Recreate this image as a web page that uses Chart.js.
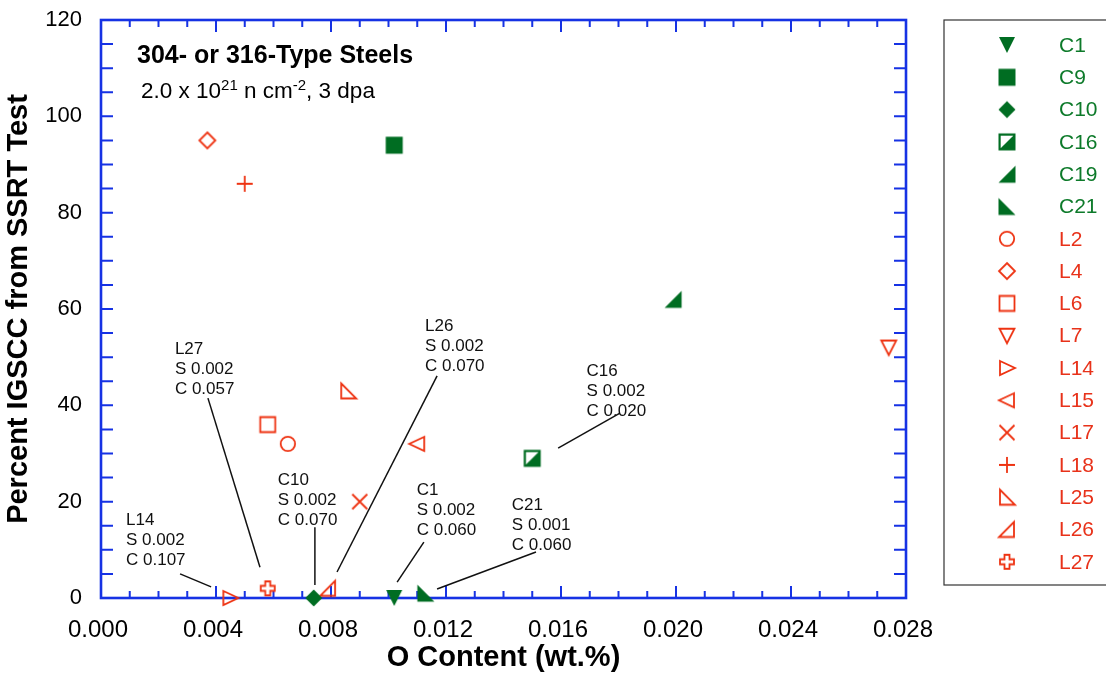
<!DOCTYPE html>
<html>
<head>
<meta charset="utf-8">
<script src="https://cdn.jsdelivr.net/npm/chart.js@4"></script>
<style>
  html, body { margin: 0; padding: 0; background: #fff; }
  canvas { display: block; }
</style>
</head>
<body>
<canvas id="c" width="1106" height="678"></canvas>
<script>
// ---------------- DATA ----------------
const seriesNames = ['C1','C9','C10','C16','C19','C21','L2','L4','L6','L7','L14','L15','L17','L18','L25','L26','L27'];
const oContent    = [0.0102,0.0102,0.0074,0.0150,0.0199,0.0113,0.0065,0.0037,0.0058,0.0274,0.0045,0.0110,0.0090,0.0050,0.0086,0.0079,0.0058];
const pctIGSCC    = [0,     94,    0,     29,    62,    1,     32,    95,    36,    52,    0,     32,    20,    86,    43,    2,     2];
const xTickValues = [0.000,0.004,0.008,0.012,0.016,0.020,0.024,0.028];
const yTickValues = [0,20,40,60,80,100,120];
const annotationTexts = {
  L14: ['L14','S 0.002','C 0.107'],
  L27: ['L27','S 0.002','C 0.057'],
  C10: ['C10','S 0.002','C 0.070'],
  L26: ['L26','S 0.002','C 0.070'],
  C1:  ['C1','S 0.002','C 0.060'],
  C21: ['C21','S 0.001','C 0.060'],
  C16: ['C16','S 0.002','C 0.020']
};
const chartTitle = '304- or 316-Type Steels';
const xTitle = 'O Content (wt.%)';
const yTitle = 'Percent IGSCC from SSRT Test';

// ---------------- STYLE ----------------
const FONT = '"Liberation Sans", Arial, Helvetica, sans-serif';
const BLUE = '#1632e4';
const GREEN = '#006d22';
const RED = '#ee3312';
const GREEN_TXT = '#0d7a2a';
const RED_TXT = '#e8321a';

// annotation placement (data units): text anchor = first-line baseline; leader line from -> to
const annotationPlacement = {
  L14: {text:[0.00087,15.2], from:[0.00275,5.0],  to:[0.00383,2.3]},
  L27: {text:[0.00257,50.7], from:[0.00372,41.5], to:[0.00553,6.4]},
  C10: {text:[0.00615,23.5], from:[0.00744,14.7], to:[0.00744,2.7]},
  L26: {text:[0.01127,55.5], from:[0.01169,46.1], to:[0.00821,5.4]},
  C1:  {text:[0.01098,21.4], from:[0.01123,11.6], to:[0.0103,3.3]},
  C21: {text:[0.01429,18.3], from:[0.01513,9.55], to:[0.01169,1.87]},
  C16: {text:[0.01689,46.1], from:[0.01805,38.4], to:[0.0159,31.1]}
};

// ---------------- MARKERS ----------------
function mk(fn) {
  const cv = document.createElement('canvas');
  cv.width = 24; cv.height = 24;
  const g = cv.getContext('2d');
  g.translate(12, 12);
  g.lineJoin = 'miter';
  fn(g);
  return cv;
}
function poly(g, pts) {
  g.beginPath();
  g.moveTo(pts[0][0], pts[0][1]);
  for (let i = 1; i < pts.length; i++) g.lineTo(pts[i][0], pts[i][1]);
  g.closePath();
}
function fillPoly(pts, color) { return mk(g => { poly(g, pts); g.fillStyle = color; g.fill(); }); }
function strokePoly(pts, color) { return mk(g => { poly(g, pts); g.strokeStyle = color; g.lineWidth = 1.8; g.stroke(); }); }

const markerStyles = {
  C1:  fillPoly([[-8,-8],[8,-8],[0,8]], GREEN),
  C9:  fillPoly([[-8.5,-8.5],[8.5,-8.5],[8.5,8.5],[-8.5,8.5]], GREEN),
  C10: fillPoly([[0,-8.5],[8.5,0],[0,8.5],[-8.5,0]], GREEN),
  C16: mk(g => {
    g.fillStyle = GREEN; g.fillRect(-8.5,-8.5,17,17);
    g.fillStyle = '#fff'; poly(g, [[-6.3,-6.3],[6.3,-6.3],[-6.3,6.3]]); g.fill();
  }),
  C19: fillPoly([[-8.5,8.5],[8.5,8.5],[8.5,-8.5]], GREEN),
  C21: fillPoly([[-8.5,-8.5],[-8.5,8.5],[8.5,8.5]], GREEN),
  L2:  mk(g => { g.beginPath(); g.arc(0,0,7.2,0,Math.PI*2); g.strokeStyle = RED; g.lineWidth = 1.8; g.stroke(); }),
  L4:  strokePoly([[0,-8],[8,0],[0,8],[-8,0]], RED),
  L6:  strokePoly([[-7.5,-7.5],[7.5,-7.5],[7.5,7.5],[-7.5,7.5]], RED),
  L7:  strokePoly([[-7.5,-7],[7.5,-7],[0,7.5]], RED),
  L14: strokePoly([[-7,-7],[8,0],[-7,7]], RED),
  L15: strokePoly([[7,-7],[-8,0],[7,7]], RED),
  L17: mk(g => { g.strokeStyle = RED; g.lineWidth = 1.8; g.beginPath(); g.moveTo(-7.5,-7.5); g.lineTo(7.5,7.5); g.moveTo(7.5,-7.5); g.lineTo(-7.5,7.5); g.stroke(); }),
  L18: mk(g => { g.strokeStyle = RED; g.lineWidth = 1.8; g.beginPath(); g.moveTo(-8,0); g.lineTo(8,0); g.moveTo(0,-8); g.lineTo(0,8); g.stroke(); }),
  L25: strokePoly([[-7,-7.5],[-7,7.5],[8,7.5]], RED),
  L26: strokePoly([[-8,7.5],[7,7.5],[7,-7.5]], RED),
  L27: strokePoly([[-2.5,-7],[2.5,-7],[2.5,-2.5],[7,-2.5],[7,2.5],[2.5,2.5],[2.5,7],[-2.5,7],[-2.5,2.5],[-7,2.5],[-7,-2.5],[-2.5,-2.5]], RED)
};

// ---------------- DATASETS ----------------
const datasets = seriesNames.map((name, i) => ({
  label: name,
  data: [{x: oContent[i], y: pctIGSCC[i]}],
  pointStyle: markerStyles[name],
  pointRadius: 10,
  pointHoverRadius: 10,
  borderWidth: 0,
  clip: false
}));

// ---------------- PLUGINS ----------------
const framePlugin = {
  id: 'frame',
  beforeDatasetsDraw(chart) {
    const {ctx, chartArea: a, scales: {x, y}} = chart;
    ctx.save();
    ctx.strokeStyle = BLUE;
    ctx.lineWidth = 2;
    ctx.beginPath();
    // x ticks every 0.001, major every 0.004
    for (let i = 0; i <= 28; i++) {
      const px = x.getPixelForValue(i * 0.001);
      const len = (i % 4 === 0) ? 12 : 7;
      ctx.moveTo(px, a.bottom); ctx.lineTo(px, a.bottom - len);
      ctx.moveTo(px, a.top); ctx.lineTo(px, a.top + len);
    }
    // y ticks every 5
    for (let v = 0; v <= 120; v += 5) {
      const py = y.getPixelForValue(v);
      ctx.moveTo(a.left, py); ctx.lineTo(a.left + 12, py);
      ctx.moveTo(a.right, py); ctx.lineTo(a.right - 12, py);
    }
    ctx.stroke();
    ctx.lineWidth = 2.6;
    ctx.strokeRect(a.left, a.top, a.right - a.left, a.bottom - a.top);
    ctx.restore();
  },
  afterDraw(chart) {
    const {ctx, chartArea: a, scales: {x, y}} = chart;
    ctx.save();
    // title
    ctx.fillStyle = '#000';
    ctx.textBaseline = 'alphabetic';
    ctx.textAlign = 'left';
    ctx.font = 'bold 25px ' + FONT;
    ctx.fillText(chartTitle, 137, 63);
    // subtitle with superscripts
    const parts = [['2.0 x 10', false], ['21', true], [' n cm', false], ['-2', true], [', 3 dpa', false]];
    let cx = 141;
    parts.forEach(([t, sup]) => {
      ctx.font = (sup ? '15px ' : '22.5px ') + FONT;
      ctx.fillText(t, cx, sup ? 90 : 98);
      cx += ctx.measureText(t).width;
    });
    // annotations
    ctx.font = '17px ' + FONT;
    ctx.fillStyle = '#111';
    ctx.strokeStyle = '#111';
    ctx.lineWidth = 1.5;
    Object.keys(annotationTexts).forEach(k => {
      const p = annotationPlacement[k];
      const tx = x.getPixelForValue(p.text[0]);
      const ty = y.getPixelForValue(p.text[1]);
      annotationTexts[k].forEach((line, j) => ctx.fillText(line, tx, ty + j * 20));
      ctx.beginPath();
      ctx.moveTo(x.getPixelForValue(p.from[0]), y.getPixelForValue(p.from[1]));
      ctx.lineTo(x.getPixelForValue(p.to[0]), y.getPixelForValue(p.to[1]));
      ctx.stroke();
    });
    // legend box
    const boxL = a.right + 38, boxT = a.top, boxB = 585;
    ctx.strokeStyle = '#333';
    ctx.lineWidth = 1.2;
    ctx.strokeRect(boxL, boxT, chart.width + 10 - boxL, boxB - boxT);
    ctx.font = '21px ' + FONT;
    ctx.textBaseline = 'middle';
    seriesNames.forEach((name, i) => {
      const ry = 45 + i * 32.3;
      const m = markerStyles[name];
      ctx.drawImage(m, 1007 - m.width / 2, ry - m.height / 2);
      ctx.fillStyle = name.startsWith('C') ? GREEN_TXT : RED_TXT;
      ctx.fillText(name, 1059, ry + 1);
    });
    ctx.restore();
  }
};

// ---------------- CHART ----------------
new Chart(document.getElementById('c'), {
  type: 'scatter',
  data: { datasets },
  options: {
    responsive: false,
    animation: false,
    events: [],
    layout: { padding: { top: 20, right: 200, left: 0, bottom: 0 } },
    plugins: { legend: { display: false }, tooltip: { enabled: false } },
    scales: {
      x: {
        type: 'linear', min: 0, max: 0.028,
        afterBuildTicks: s => { s.ticks = xTickValues.map(v => ({value: v})); },
        afterFit: s => { s.height = 80; s.paddingLeft = 0; s.paddingRight = 0; },
        grid: { display: false, drawTicks: false },
        border: { display: false },
        ticks: {
          autoSkip: false, maxRotation: 0, padding: 18, labelOffset: -3,
          color: '#000', font: { family: FONT, size: 24 },
          callback: v => Number(v).toFixed(3)
        },
        title: { display: true, text: xTitle, color: '#000',
                 font: { family: FONT, size: 29, weight: 'bold' }, padding: { top: 0, bottom: 3 } }
      },
      y: {
        type: 'linear', min: 0, max: 120,
        afterBuildTicks: s => { s.ticks = yTickValues.map(v => ({value: v})); },
        afterFit: s => { s.width = 101; s.paddingTop = 0; s.paddingBottom = 0; },
        grid: { display: false, drawTicks: false },
        border: { display: false },
        ticks: {
          autoSkip: false, padding: 19,
          color: '#000', font: { family: FONT, size: 22 },
          callback: v => String(v)
        },
        title: { display: true, text: yTitle, color: '#000',
                 font: { family: FONT, size: 29, weight: 'bold' }, padding: { top: 2, bottom: 0 } }
      }
    }
  },
  plugins: [framePlugin]
});
</script>
</body>
</html>
